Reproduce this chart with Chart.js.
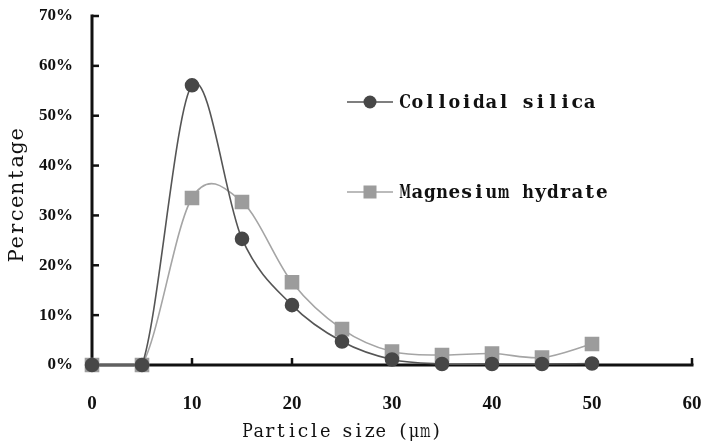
<!DOCTYPE html>
<html>
<head>
<meta charset="utf-8">
<script src="https://cdn.jsdelivr.net/npm/chart.js@4"></script>
<style>
html,body{margin:0;padding:0;background:#fff;}
#wrap{width:703px;height:447px;}
</style>
</head>
<body>
<div id="wrap"><canvas id="c" width="703" height="447"></canvas></div>
<script>
const particleSizes = [0, 5, 10, 15, 20, 25, 30, 35, 40, 45, 50];
const colloidalSilica = [0, 0, 56.1, 25.3, 12.0, 4.7, 1.1, 0.2, 0.2, 0.2, 0.3];
const magnesiumHydrate = [0, 0, 33.5, 32.7, 16.6, 7.2, 2.7, 2.0, 2.3, 1.5, 4.2];
const xTickValues = [0, 10, 20, 30, 40, 50, 60];
const yTickValues = [0, 10, 20, 30, 40, 50, 60, 70];
const seriesNames = ['Colloidal silica', 'Magnesium hydrate'];
const xTitle = 'Particle size (\u03bcm)';
const yTitle = 'Percentage';

function toPoints(vals){ return particleSizes.map((x,i)=>({x:x,y:vals[i]})); }

function drawMono(ctx, text, x, y, cell){
  for (let i=0;i<text.length;i++){
    if (text[i] === ' ') continue;
    ctx.fillText(text[i], x + cell*i + cell/2, y, cell - 0.6);
  }
}

// Smooth curves (Catmull-Rom style, like spreadsheet "smoothed line")
const smooth = {
  id:'smooth',
  beforeDatasetsDraw(chart){
    const area = chart.chartArea;
    chart.data.datasets.forEach((d, di)=>{
      const meta = chart.getDatasetMeta(di);
      const line = meta.dataset;
      if (!line) return;
      line.updateControlPoints(area, 'x');
      const pts = meta.data;
      const n = pts.length;
      const clampY = y => Math.min(Math.max(y, area.top), area.bottom);
      for (let i=0;i<n;i++){
        const p = pts[i];
        const prev = pts[Math.max(i-1,0)], next = pts[Math.min(i+1,n-1)];
        const k = (i===0 || i===n-1) ? 1/3 : 1/6;
        const mx = (next.x - prev.x)*k, my = (next.y - prev.y)*k;
        p.cp1x = p.x - mx; p.cp1y = clampY(p.y - my);
        p.cp2x = p.x + mx; p.cp2y = clampY(p.y + my);
      }
    });
  }
};

const decor = {
  id:'decor',
  beforeDatasetsDraw(chart){
    const ctx = chart.ctx, xs = chart.scales.x, ys = chart.scales.y;
    const x0 = xs.getPixelForValue(0), x1 = xs.getPixelForValue(60);
    const y0 = ys.getPixelForValue(0), y1 = ys.getPixelForValue(70);
    ctx.save();
    ctx.strokeStyle = '#111';
    ctx.lineWidth = 3;
    ctx.lineCap = 'square';
    ctx.beginPath();
    ctx.moveTo(x0, y1); ctx.lineTo(x0, y0); ctx.lineTo(x1, y0);
    ctx.stroke();
    ctx.lineWidth = 2.5;
    ctx.lineCap = 'butt';
    yTickValues.forEach(v=>{ if(v===0) return; const p=ys.getPixelForValue(v); ctx.beginPath(); ctx.moveTo(x0, p); ctx.lineTo(x0+7, p); ctx.stroke(); });
    xTickValues.forEach(v=>{ if(v===0) return; const p=xs.getPixelForValue(v); ctx.beginPath(); ctx.moveTo(p, y0); ctx.lineTo(p, y0-7); ctx.stroke(); });
    ctx.restore();
  },
  afterDraw(chart){
    const ctx = chart.ctx;
    ctx.save();
    ctx.fillStyle = '#111';
    ctx.textAlign = 'center';
    ctx.textBaseline = 'middle';
    // y title
    ctx.save();
    ctx.translate(18, 195);
    ctx.rotate(-Math.PI/2);
    ctx.font = '21px "DejaVu Serif"';
    drawMono(ctx, yTitle, -67.5, 0, 13.5);
    ctx.restore();
    // x title
    ctx.font = '19px "DejaVu Serif"';
    drawMono(ctx, xTitle, 242, 432, 11.1);
    // legend
    const ds = chart.data.datasets;
    const rows = [102, 192];
    rows.forEach((ly, i)=>{
      const d = ds[i];
      ctx.strokeStyle = d.borderColor;
      ctx.lineWidth = 1.5;
      ctx.beginPath(); ctx.moveTo(347, ly); ctx.lineTo(393, ly); ctx.stroke();
      ctx.fillStyle = d.pointBackgroundColor;
      if (i===0){ ctx.beginPath(); ctx.arc(370, ly, 6.5, 0, Math.PI*2); ctx.fill(); }
      else { ctx.fillRect(370-6.5, ly-6.5, 13, 13); }
      ctx.fillStyle = '#111';
      ctx.font = 'bold 19px "DejaVu Serif"';
      drawMono(ctx, seriesNames[i], 399, ly+1, 12.3);
    });
    ctx.restore();
  }
};

new Chart(document.getElementById('c'), {
  type:'line',
  data:{
    datasets:[
      {label:seriesNames[0], data:toPoints(colloidalSilica), borderColor:'#555', borderWidth:1.6,
       pointBackgroundColor:'#474747', pointBorderColor:'#474747', pointStyle:'circle', pointRadius:6.5, tension:0.4},
      {label:seriesNames[1], data:toPoints(magnesiumHydrate), borderColor:'#a5a5a5', borderWidth:1.6,
       pointBackgroundColor:'#9c9c9c', pointBorderColor:'#9c9c9c', pointStyle:'rect', pointRadius:9.2, tension:0.4}
    ]
  },
  options:{
    responsive:false,
    animation:false,
    clip:false,
    layout:{padding:{top:16,right:11,left:0,bottom:0}},
    plugins:{legend:{display:false}, tooltip:{enabled:false}},
    scales:{
      x:{type:'linear', min:0, max:60,
         afterBuildTicks(s){ s.ticks = xTickValues.map(v=>({value:v})); },
         afterFit(s){ s.height = 82; s.paddingLeft = 0; s.paddingRight = 0; },
         grid:{display:false}, border:{display:false},
         ticks:{color:'#111', font:{family:'"Liberation Serif"', size:19, weight:'bold'}, padding:20, maxRotation:0}},
      y:{min:0, max:70,
         afterBuildTicks(s){ s.ticks = yTickValues.map(v=>({value:v})); },
         afterFit(s){ s.width = 92; s.paddingTop = 0; s.paddingBottom = 0; },
         grid:{display:false}, border:{display:false},
         ticks:{color:'#111', font:{family:'"Liberation Serif"', size:17, weight:'bold'}, padding:11, callback:v=>v+'%'}}
    }
  },
  plugins:[smooth, decor]
});
</script>
</body>
</html>
